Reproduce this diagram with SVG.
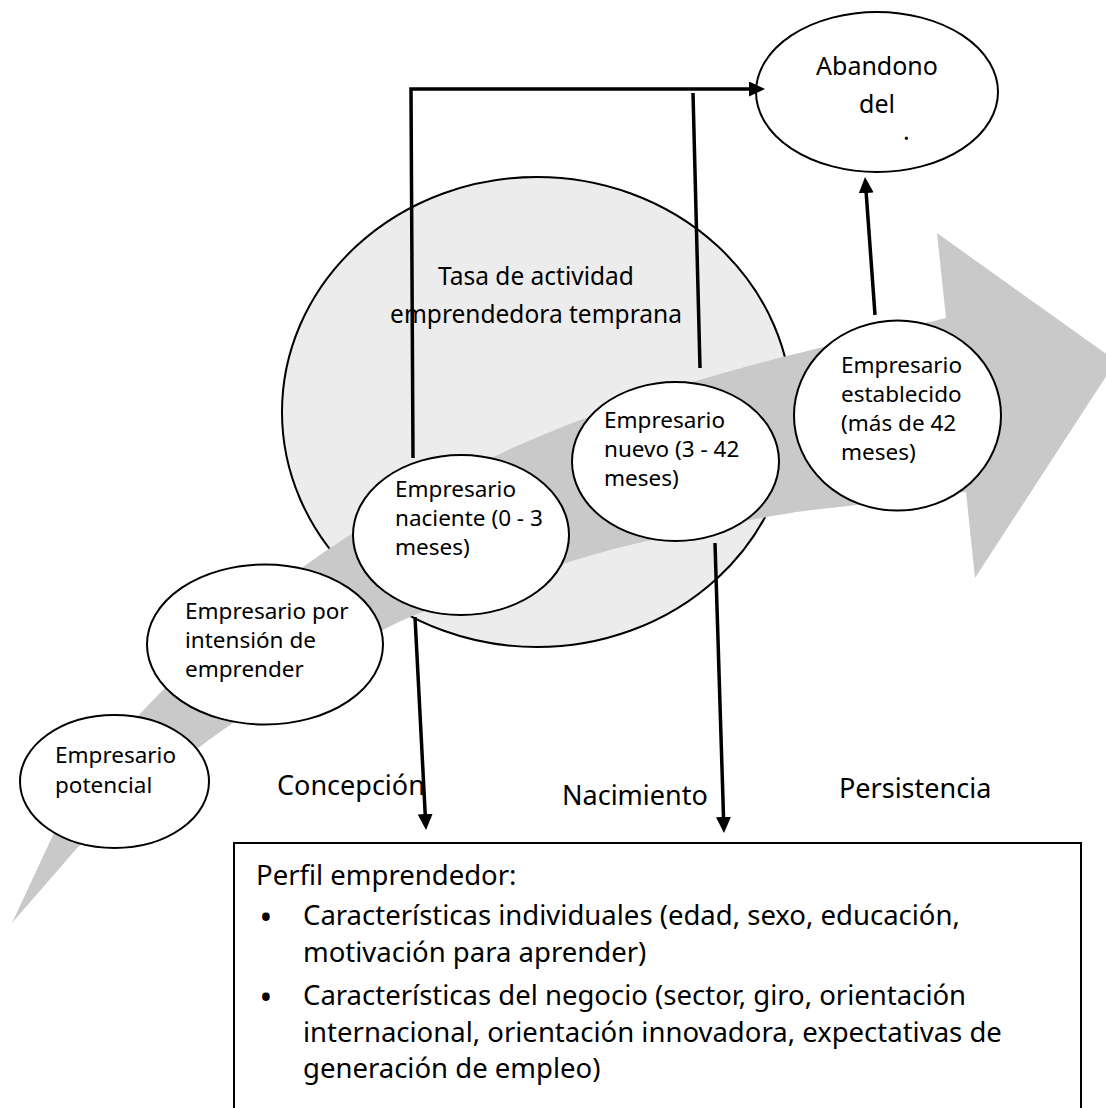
<svg xmlns="http://www.w3.org/2000/svg" width="1106" height="1108" viewBox="0 0 1106 1108">
<defs>
<style>
.t{font-family:"Noto Sans","Open Sans",sans-serif;fill:#000}
.e{font-size:22.5px}
.lbl{font-size:27px}
.bx{font-size:27.5px}
.node{fill:#fff;stroke:#000;stroke-width:2}
.conn{fill:none;stroke:#000;stroke-width:3.5}
</style>
<marker id="ah" markerUnits="userSpaceOnUse" markerWidth="16" markerHeight="15" viewBox="0 0 16 15" refX="8" refY="7.5" orient="auto"><path d="M0,0 L16,7.5 L0,15 z" fill="#000"/></marker>
</defs>
<rect width="1106" height="1108" fill="#fff"/>
<g id="tea">
<ellipse cx="537" cy="412" rx="255" ry="235" fill="#ececec" stroke="#000" stroke-width="2"/>
<text class="t" font-size="24.5" text-anchor="middle"><tspan x="536" y="285">Tasa de actividad</tspan><tspan x="536" y="323">emprendedora temprana</tspan></text>
</g>
<g id="flecha">
<path d="M12,923 L53,835 C74.3,800.2 98.3,758.7 140,714 C181.7,669.3 244.2,609.8 303,567 C361.8,524.2 427,488.2 493,457 C559,425.8 623.5,403.2 699,380 C774.5,356.8 904.8,328.3 946,318 L937,233 L1116,361 L975,578 L966,492 C947.7,494.2 889.2,500.8 856,505 C822.8,509.2 808,509.5 767,517 C726,524.5 656.2,537.8 610,550 C563.8,562.2 527.8,576.7 490,590 C452.2,603.3 428,606.3 383,630 C338,653.7 270.8,695.8 220,732 C169.2,768.2 101.7,827.8 78,847 Z" fill="#c9c9c9"/>
</g>
<g id="potencial">
<ellipse class="node" cx="114.5" cy="781.5" rx="94.5" ry="66.5"/>
<text class="t e"><tspan x="55" y="763">Empresario</tspan><tspan x="55" y="793">potencial</tspan></text>
</g>
<g id="intension">
<ellipse class="node" cx="265" cy="644.5" rx="118" ry="80"/>
<text class="t e"><tspan x="185" y="619">Empresario por</tspan><tspan x="185" y="648">intensión de</tspan><tspan x="185" y="677">emprender</tspan></text>
</g>
<g id="naciente">
<ellipse class="node" cx="461" cy="535" rx="108" ry="80"/>
<text class="t e"><tspan x="395" y="497">Empresario</tspan><tspan x="395" y="526">naciente (0 - 3</tspan><tspan x="395" y="555">meses)</tspan></text>
</g>
<g id="nuevo">
<ellipse class="node" cx="675.5" cy="461.5" rx="103.5" ry="79.5"/>
<text class="t e"><tspan x="604" y="428">Empresario</tspan><tspan x="604" y="457">nuevo (3 - 42</tspan><tspan x="604" y="486">meses)</tspan></text>
</g>
<g id="establecido">
<ellipse class="node" cx="897.5" cy="415.5" rx="103.5" ry="95"/>
<text class="t e"><tspan x="841" y="373">Empresario</tspan><tspan x="841" y="402">establecido</tspan><tspan x="841" y="431">(más de 42</tspan><tspan x="841" y="460">meses)</tspan></text>
</g>
<g id="abandono">
<ellipse class="node" cx="877" cy="92" rx="121" ry="80"/>
<text class="t" font-size="25" text-anchor="middle"><tspan x="877" y="75">Abandono</tspan><tspan x="877" y="113">del</tspan></text>
<text class="t" font-size="25" x="903" y="140">.</text>
</g>
<g id="etapas">
<text class="t lbl" x="277" y="795">Concepción</text>
<text class="t lbl" x="562" y="805">Nacimiento</text>
<text class="t lbl" x="839" y="798">Persistencia</text>
</g>
<g id="perfil">
<rect x="234" y="843" width="847" height="300" fill="#fff" stroke="#000" stroke-width="2"/>
<text class="t bx" x="256" y="885">Perfil emprendedor:</text>
<text class="t" font-size="34" text-anchor="middle" x="266" y="929">•</text>
<text class="t" font-size="34" text-anchor="middle" x="266" y="1009">•</text>
<text class="t bx"><tspan x="303" y="925">Características individuales (edad, sexo, educación,</tspan><tspan x="303" y="962">motivación para aprender)</tspan><tspan x="303" y="1005">Características del negocio (sector, giro, orientación</tspan><tspan x="303" y="1042">internacional, orientación innovadora, expectativas de</tspan><tspan x="303" y="1078">generación de empleo)</tspan></text>
</g>
<g id="conectores" class="conn">
<polyline points="413,458 411,89 757,89" stroke-linejoin="miter" marker-end="url(#ah)"/>
<line x1="700" y1="368" x2="693" y2="93"/>
<line x1="875" y1="315" x2="865.6" y2="185" marker-end="url(#ah)"/>
<line x1="415" y1="617" x2="425.6" y2="822" marker-end="url(#ah)"/>
<line x1="715" y1="543" x2="723.75" y2="825" marker-end="url(#ah)"/>
</g>
</svg>
